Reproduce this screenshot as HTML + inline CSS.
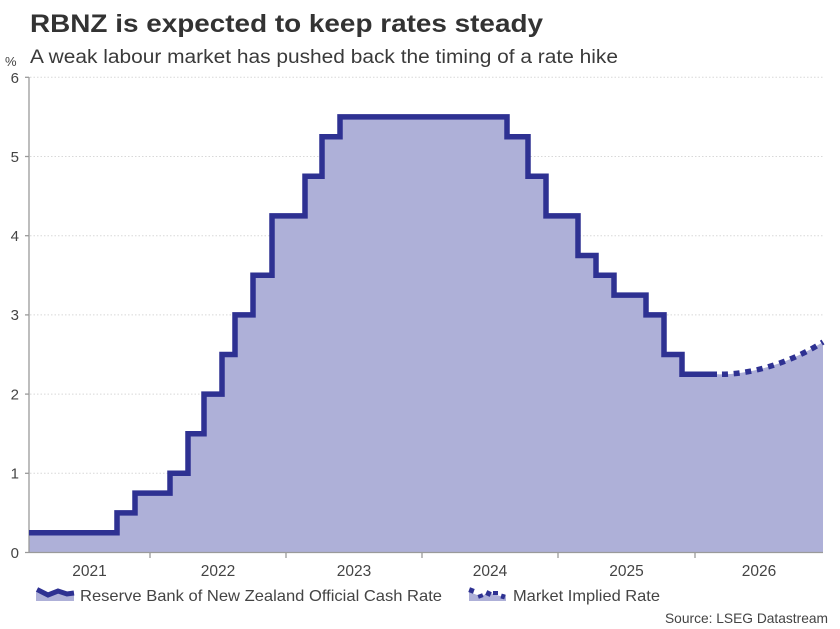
<!DOCTYPE html>
<html><head><meta charset="utf-8"><style>
html,body{margin:0;padding:0;background:#fff;}
svg{display:block;}
text{font-family:"Liberation Sans",Arial,sans-serif;}
</style></head><body>
<svg width="840" height="629" viewBox="0 0 840 629" xmlns="http://www.w3.org/2000/svg">
<rect width="840" height="629" fill="#fff"/>
<text x="30" y="32" font-size="25" font-weight="bold" fill="#333" textLength="513" lengthAdjust="spacingAndGlyphs">RBNZ is expected to keep rates steady</text>
<text x="30" y="63" font-size="19" fill="#3a3a3a" textLength="588" lengthAdjust="spacingAndGlyphs">A weak labour market has pushed back the timing of a rate hike</text>
<text x="5" y="66" font-size="13" fill="#444">%</text>
<!-- gridlines -->
<g stroke="#d8d8d8" stroke-width="1" stroke-dasharray="1.5 2">
<line x1="30" y1="77.3" x2="823" y2="77.3"/>
<line x1="30" y1="156.5" x2="823" y2="156.5"/>
<line x1="30" y1="235.7" x2="823" y2="235.7"/>
<line x1="30" y1="314.9" x2="823" y2="314.9"/>
<line x1="30" y1="394.1" x2="823" y2="394.1"/>
<line x1="30" y1="473.3" x2="823" y2="473.3"/>
</g>
<!-- fill -->
<path d="M29,532.7 H117 V512.9 H135 V493.1 H170 V473.3 H188 V433.7 H204 V394.1 H222 V354.5 H235 V314.9 H253 V275.3 H272 V215.9 H305 V176.3 H322 V136.7 H340 V116.9 H507 V136.7 H528 V176.3 H546 V215.9 H578 V255.5 H596 V275.3 H614 V295.1 H646 V314.9 H664 V354.5 H682 V374.3 H717 C755,375 795,360 823,342 V552.5 H29 Z" fill="#aeb0d8"/>
<!-- axes -->
<line x1="29" y1="77" x2="29" y2="553" stroke="#9a9a9a" stroke-width="1.3"/>
<line x1="25" y1="552.5" x2="823" y2="552.5" stroke="#9a9a9a" stroke-width="1.3"/>
<g stroke="#9a9a9a" stroke-width="1.3">
<line x1="25" y1="77.3" x2="29" y2="77.3"/>
<line x1="25" y1="156.5" x2="29" y2="156.5"/>
<line x1="25" y1="235.7" x2="29" y2="235.7"/>
<line x1="25" y1="314.9" x2="29" y2="314.9"/>
<line x1="25" y1="394.1" x2="29" y2="394.1"/>
<line x1="25" y1="473.3" x2="29" y2="473.3"/>
<line x1="150" y1="552.5" x2="150" y2="558"/>
<line x1="286" y1="552.5" x2="286" y2="558"/>
<line x1="422" y1="552.5" x2="422" y2="558"/>
<line x1="558" y1="552.5" x2="558" y2="558"/>
<line x1="695" y1="552.5" x2="695" y2="558"/>
</g>
<!-- series line -->
<path d="M29,532.7 H117 V512.9 H135 V493.1 H170 V473.3 H188 V433.7 H204 V394.1 H222 V354.5 H235 V314.9 H253 V275.3 H272 V215.9 H305 V176.3 H322 V136.7 H340 V116.9 H507 V136.7 H528 V176.3 H546 V215.9 H578 V255.5 H596 V275.3 H614 V295.1 H646 V314.9 H664 V354.5 H682 V374.3 H717" fill="none" stroke="#2e3192" stroke-width="5.5" stroke-linejoin="miter"/>
<path d="M717,374.3 C755,375 795,360 823,342" fill="none" stroke="#2e3192" stroke-width="5.5" stroke-dasharray="0 5 6 0.7"/>
<!-- y labels -->
<g font-size="15" fill="#444" text-anchor="end">
<text x="19" y="83">6</text>
<text x="19" y="162">5</text>
<text x="19" y="241">4</text>
<text x="19" y="320">3</text>
<text x="19" y="399.5">2</text>
<text x="19" y="478.5">1</text>
<text x="19" y="558">0</text>
</g>
<!-- x labels -->
<g font-size="15.5" fill="#444" text-anchor="middle">
<text x="89.5" y="576">2021</text>
<text x="218" y="576">2022</text>
<text x="354" y="576">2023</text>
<text x="490" y="576">2024</text>
<text x="626.5" y="576">2025</text>
<text x="759" y="576">2026</text>
</g>
<!-- legend -->
<path d="M36,592 L48,597 L58,593 L67,596 L74,595 V601 H36 Z" fill="#aeb0d8"/>
<polyline points="37,589.5 48,595 58,591 67,594 74,593" fill="none" stroke="#2e3192" stroke-width="5"/>
<text x="80" y="601" font-size="16" fill="#444" textLength="362" lengthAdjust="spacingAndGlyphs">Reserve Bank of New Zealand Official Cash Rate</text>
<path d="M469,592 L480,596 L490,593 L500,596 L506,595 V601 H469 Z" fill="#aeb0d8"/>
<g fill="#2e3192">
<rect x="469" y="588" width="5" height="5" transform="rotate(20 471.5 590.5)"/>
<rect x="478" y="594" width="5" height="4" transform="rotate(-20 480.5 596)"/>
<rect x="486" y="591" width="5" height="5" transform="rotate(25 488.5 593.5)"/>
<rect x="493" y="591" width="5" height="4"/>
<rect x="501" y="594" width="4" height="5" transform="rotate(15 503 596.5)"/>
</g>
<text x="513" y="601" font-size="16" fill="#444" textLength="147" lengthAdjust="spacingAndGlyphs">Market Implied Rate</text>
<text x="828" y="623" font-size="14" fill="#444" text-anchor="end" textLength="163" lengthAdjust="spacingAndGlyphs">Source: LSEG Datastream</text>
</svg>
</body></html>
